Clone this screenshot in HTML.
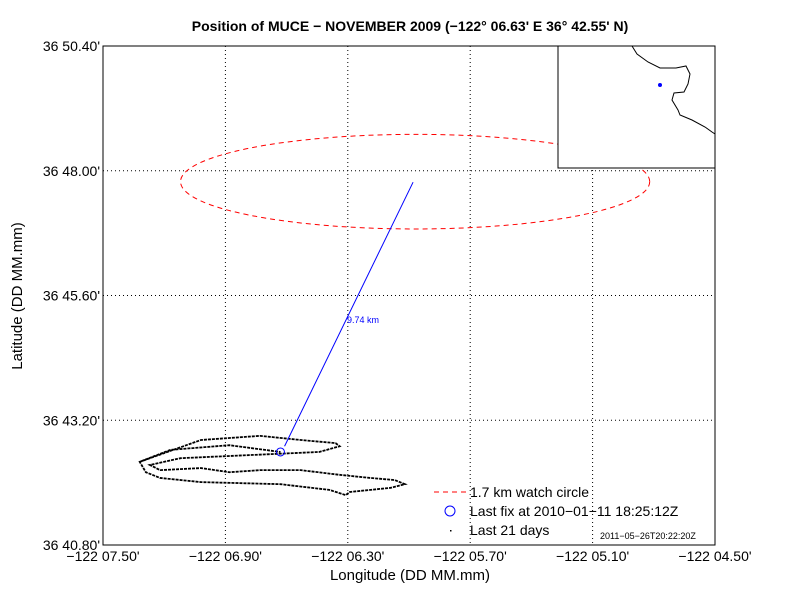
<!DOCTYPE html>
<html><head><meta charset="utf-8"><style>
body{margin:0;background:#fff;}
svg{display:block;font-family:"Liberation Sans",sans-serif;}
</style></head><body>
<svg id="c" width="792" height="612" viewBox="0 0 792 612"></svg>
<script>
const xTickVals=[0,0.6,1.2,1.8,2.4,3.0];
const xTickLabels=["−122 07.50'","−122 06.90'","−122 06.30'","−122 05.70'","−122 05.10'","−122 04.50'"];
const yTickVals=[0,2.4,4.8,7.2,9.6];
const yTickLabels=["36 40.80'","36 43.20'","36 45.60'","36 48.00'","36 50.40'"];
const trackX=[0.18,0.48,0.77,0.97,1.14,1.16,1.06,0.72,0.38,0.23,0.28,0.48,0.62,0.77,0.97,1.16,1.31,1.43,1.48,1.41,1.21,1.19,1.11,0.87,0.48,0.28,0.21,0.18,0.33,0.62,0.87];
const trackY=[1.60,2.02,2.10,2.02,1.96,1.90,1.79,1.73,1.67,1.54,1.44,1.48,1.40,1.44,1.44,1.35,1.29,1.25,1.17,1.10,1.02,0.96,1.06,1.17,1.21,1.29,1.40,1.60,1.83,1.92,1.79];
const lineX=[0.89,1.52];
const lineY=[1.90,6.98];
const circleCenter=[1.53,6.99];
const circleRadii=[1.15,0.91];
const lastFix=[0.87,1.79];
const L=103,R=715,T=46,B=545;
const xs=v=>L+v/3*(R-L), ys=v=>B-v/9.6*(B-T);
const svg=document.getElementById('c'),NS='http://www.w3.org/2000/svg';
function mk(t,a,txt){const e=document.createElementNS(NS,t);for(const k in a)e.setAttribute(k,a[k]);if(txt!=null)e.textContent=txt;svg.appendChild(e);return e;}
let e;
e=mk('rect',{x:L,y:T,width:R-L,height:B-T,fill:'#fff',stroke:'#000','stroke-width':1});


xTickVals.forEach((v,i)=>{
 e=mk('line',{x1:xs(v),x2:xs(v),y1:T,y2:B,stroke:'#000','stroke-dasharray':'1,3'});
 
 
 e=mk('text',{x:xs(v),y:B+16,'font-size':14,'text-anchor':'middle'},xTickLabels[i]);
 
 
});
yTickVals.forEach((v,i)=>{
 e=mk('line',{x1:L,x2:R,y1:ys(v),y2:ys(v),stroke:'#000','stroke-dasharray':'1,3'});
 
 
 e=mk('text',{x:L-3,y:ys(v)+5,'font-size':14,'text-anchor':'end'},yTickLabels[i]);
 
 
});
e=mk('ellipse',{cx:xs(circleCenter[0]),cy:ys(circleCenter[1]),rx:circleRadii[0]/3*(R-L),ry:circleRadii[1]/9.6*(B-T),fill:'none',stroke:'#f00','stroke-dasharray':'5,4'});


e=mk('polyline',{points:trackX.map((x,i)=>xs(x)+','+ys(trackY[i])).join(' '),fill:'none',stroke:'#000','stroke-width':1.8,'stroke-dasharray':'3,1'});


e=mk('line',{x1:xs(lineX[0]),y1:ys(lineY[0]),x2:xs(lineX[1]),y2:ys(lineY[1]),stroke:'#00f'});


e=mk('text',{x:347,y:323,'font-size':9,fill:'#00f'},'9.74 km');


e=mk('circle',{cx:xs(lastFix[0]),cy:ys(lastFix[1]),r:4,fill:'none',stroke:'#00f'});


e=mk('rect',{x:558,y:46,width:157,height:122,fill:'#fff',stroke:'#000'});


e=mk('polyline',{points:'632,46 637,54 648,62 660,68 676,68 686,66 690,74 688,84 684,92 674,93 672,100 678,110 680,115 692,120 705,127 712,132 715,134',fill:'none',stroke:'#000','stroke-width':1});


e=mk('circle',{cx:660,cy:85,r:2,fill:'#00f'});


e=mk('line',{x1:434,y1:492,x2:466,y2:492,stroke:'#f00','stroke-dasharray':'5,4'});


e=mk('text',{x:470,y:497,'font-size':14},'1.7 km watch circle');


e=mk('circle',{cx:450,cy:511,r:5,fill:'none',stroke:'#00f'});


e=mk('text',{x:470,y:516,'font-size':14},'Last fix at 2010−01−11 18:25:12Z');


e=mk('rect',{x:450,y:530,width:1.5,height:1.5,fill:'#000'});


e=mk('text',{x:470,y:535,'font-size':14},'Last 21 days');


e=mk('text',{x:600,y:539,'font-size':9},'2011−05−26T20:22:20Z');


e=mk('text',{x:410,y:31,'font-size':14,'font-weight':'bold','text-anchor':'middle'},"Position of MUCE − NOVEMBER 2009 (−122° 06.63' E  36° 42.55' N)");


e=mk('text',{x:410,y:580,'font-size':15,'text-anchor':'middle'},'Longitude (DD MM.mm)');


e=mk('text',{x:0,y:0,'font-size':15,'text-anchor':'middle',transform:'translate(22,296) rotate(-90)'},'Latitude (DD MM.mm)');


</script>
</body></html>
